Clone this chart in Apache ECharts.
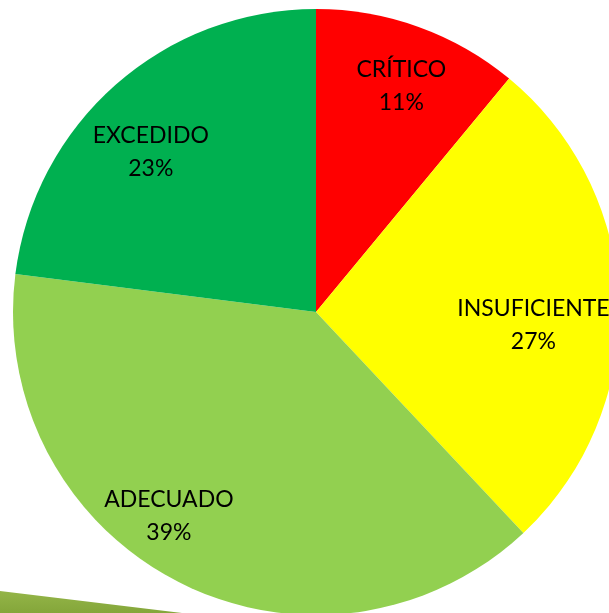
<!DOCTYPE html>
<html>
<head>
<meta charset="utf-8">
<script src="https://cdn.jsdelivr.net/npm/echarts@6/dist/echarts.min.js"></script>
<style>
html,body{margin:0;padding:0;background:#fff;}
#chart{width:609px;height:613px;}
</style>
</head>
<body>
<div id="chart"></div>
<script>
var categories = ["CRÍTICO", "INSUFICIENTE", "ADECUADO", "EXCEDIDO"];
var values = [11, 27, 39, 23];
var colors = ["#FF0000", "#FFFF00", "#92D050", "#00B050"];
// label nudges from the default inside position (px)
var labelOffsets = [[33, -81], [63, 18], [-77, 66], [-63, -44]];

var pieData = [];
for (var i = 0; i < categories.length; i++) {
	pieData.push({
		name: categories[i],
		value: values[i],
		itemStyle: {color: colors[i]},
		label: {offset: labelOffsets[i]}
	});
}

var chart = echarts.init(document.getElementById("chart"));
var option = {
	backgroundColor: "#fff",
	animation: false,
	graphic: [{
		type: "polygon",
		z: 0,
		shape: {points: [[0, 591], [182, 613], [0, 613]]},
		style: {
			fill: new echarts.graphic.LinearGradient(0, 0, 0, 1, [
				{offset: 0, color: "#94b548"},
				{offset: 1, color: "#84a63a"}
			])
		}
	}],
	series: [{
		type: "pie",
		center: [316, 312],
		radius: [0, 303],
		startAngle: 90,
		clockwise: true,
		z: 2,
		itemStyle: {borderWidth: 0},
		label: {
			show: true,
			position: "inside",
			color: "#000",
			fontFamily: "Lato",
			fontSize: 23,
			lineHeight: 33,
			align: "center",
			formatter: function (p) {
				return p.name + "\n" + Math.round(p.percent) + "%";
			}
		},
		labelLine: {show: false},
		emphasis: {disabled: true},
		data: pieData
	}]
};
chart.setOption(option);
</script>
</body>
</html>
